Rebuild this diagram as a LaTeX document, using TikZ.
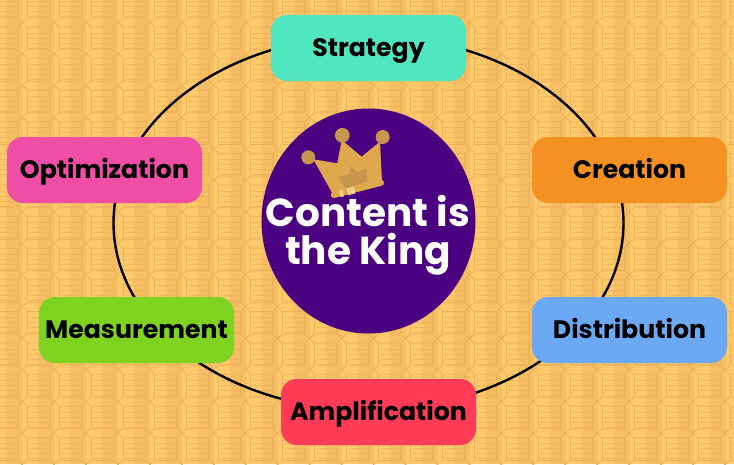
\documentclass[tikz,border=0pt]{standalone}
\usepackage{fontspec}
\setmainfont{Poppins}
\usetikzlibrary{shapes.geometric}
\definecolor{bgbase}{HTML}{FEC96B}
\definecolor{bgdark}{HTML}{F5BE64}
\definecolor{bgline}{HTML}{EDB158}
\definecolor{crownbody}{HTML}{DFA84D}
\definecolor{crownball}{HTML}{C8954F}
\definecolor{crownlight}{HTML}{F5D08F}
\definecolor{kingpurple}{HTML}{4B0082}
\tikzset{
  stagebox/.style={draw=none,rounded corners=16pt,minimum width=195pt,minimum height=66pt,inner sep=0pt,text height=24pt,text depth=8pt,font=\fontsize{25.2}{28}\selectfont\bfseries,text=black,anchor=center},
  tileline/.style={draw=bgline,line width=0.7pt},
  tiletext/.style={draw=bgline,line width=0.7pt,opacity=0.7},
}
\begin{document}
\begin{tikzpicture}[x=1pt,y=-1pt]
\useasboundingbox (0,0) rectangle (734,464);
\begin{scope}
\clip (0,0) rectangle (734,464);
\fill[bgbase] (0,0) rectangle (734,464);
% vertical darker bands of the coin wall
\foreach \i in {-1,...,23}{
  \pgfmathsetmacro{\xa}{6+32*\i}
  \fill[bgdark] (\xa,0) rectangle (\xa+15.5,464);
}
% coin-like tiles
\foreach \i in {-1,...,23}{
  \foreach \j in {-1,...,15}{
    \pgfmathsetmacro{\cx}{22+31.96*\i}
    \pgfmathsetmacro{\cy}{22+31.6*\j}
    \begin{scope}[shift={(\cx,\cy)}]
      \draw[tileline] (0,0) -- (5,-4) -- (27,-4) -- (32,0) -- (27,5) -- (5,5) -- cycle;
      \draw[tileline] (0,0) -- (-4,5) -- (-4,27);
      \draw[tileline] (5,5) -- (5,27);
      \draw[tileline] (27,5) -- (27,27);
      \foreach \k in {11,16,21,26}{
        \draw[tiletext] (7,\k) -- (26,\k);
      }
    \end{scope}
  }
}
\end{scope}
% ring
\node[draw=black,line width=2.4pt,ellipse,minimum width=510pt,minimum height=374pt,inner sep=0pt] (ring) at (368.5,223) {};
% centre
\node[fill=kingpurple,ellipse,minimum width=214pt,minimum height=225pt,inner sep=0pt] (king) at (368.5,221) {};
% crown
\fill[crownbody] (313.3,159.3) -- (337.3,163.3) -- (341.7,140) -- (361.7,156.7) -- (380,141.7) -- (382,182) -- (333.3,195) -- cycle;
\fill[crownball] (338.3,176.7) -- (348.3,175) -- (351.7,166) -- (356.7,172.7) -- (366.7,168.3) -- (367.3,181.7) -- (345,188.3) -- cycle;
\draw[crownbody,line width=6pt,line cap=round] (333.8,195) -- (381,182.8);
\fill[crownlight] (339,190.5) -- (342.5,189.6) -- (344,196.2) -- (340.5,197.1) -- cycle;
\fill[crownlight] (346.5,188.6) -- (354,186.8) -- (355.5,193.4) -- (348,195.2) -- cycle;
\fill[crownball] (308.3,157.3) circle (7);
\fill[crownball] (342.3,135.3) circle (7.4);
\fill[crownball] (382.7,137) circle (7);
\node[text=white,align=center,font=\fontsize{39}{38}\selectfont\bfseries] (kingtext) at (368,235) {Content is\\the King};
% stages
\node[stagebox,fill={rgb,255:red,80;green,230;blue,192}] (strategy) at (368.5,48) {Strategy};
\node[stagebox,fill={rgb,255:red,245;green,144;blue,35}] (creation) at (629.5,170) {Creation};
\node[stagebox,fill={rgb,255:red,108;green,169;blue,245}] (distribution) at (629.5,330) {Distribution};
\node[stagebox,fill={rgb,255:red,255;green,59;blue,85}] (amplification) at (378.5,412) {Amplification};
\node[stagebox,fill={rgb,255:red,126;green,211;blue,33}] (measurement) at (136.5,330) {Measurement};
\node[stagebox,fill={rgb,255:red,240;green,77;blue,166}] (optimization) at (104.5,170) {Optimization};
\end{tikzpicture}
\end{document}
